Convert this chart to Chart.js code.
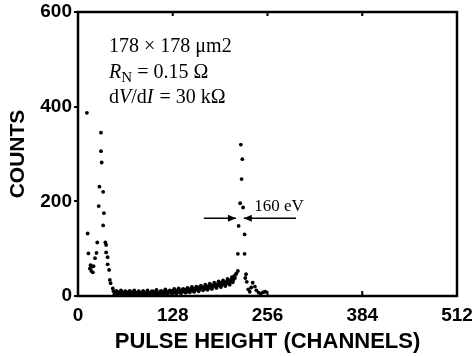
<!DOCTYPE html>
<html>
<head>
<meta charset="utf-8">
<script src="https://cdn.jsdelivr.net/npm/chart.js@4"></script>
<style>
  html, body { margin: 0; padding: 0; background: #fff; }
  #wrap { width: 472px; height: 356px; }
</style>
</head>
<body>
<div id="wrap"><canvas id="c" width="472" height="356"></canvas></div>
<script>
// ---- data ----
const xTicks = [0, 128, 256, 384, 512];
const yTicks = [0, 200, 400, 600];

// low-energy peak
const peak1Channels = [12, 31, 31, 32, 29, 34, 28, 35, 34, 13, 26, 37, 38, 14, 25, 38, 23, 40, 17, 19, 21, 40, 16, 18, 20, 42, 43, 44, 47];
const peak1Counts   = [387, 345, 306, 282, 231, 220, 190, 175, 149, 132, 113, 113, 108, 90, 91, 92, 80, 82, 65, 62, 63, 67, 58, 53, 50, 55, 34, 27, 16];

// background plateau (upper and lower scatter of the band)
const floorChannels = [48, 50, 51, 53, 54, 56, 57, 59, 60, 62, 63, 65, 66, 68, 69, 71, 72, 74, 75, 77, 78, 80, 81, 83, 84, 86, 87, 89, 90, 92, 93, 95, 96, 98, 99, 101, 102, 104, 105, 107, 108, 110, 111, 113, 114, 116, 117, 119, 120, 122, 123, 125, 126, 128, 129, 131, 132, 134, 135, 137, 138, 140, 141, 143, 144, 146, 147, 149, 150, 152, 153, 155, 156, 158, 159, 161, 162, 164, 165, 167, 168, 170, 171, 173, 174, 176, 177, 179, 180, 182, 183, 185, 186, 188, 189, 191, 192, 194, 195, 197, 198, 200, 201, 203, 204, 206, 207, 209, 210, 212];
const floorCounts   = [10, 6, 9, 5, 8, 7, 4, 9, 6, 5, 8, 6, 3, 7, 9, 5, 4, 8, 6, 5, 7, 4, 6, 8, 5, 3, 6, 7, 5, 4, 8, 6, 5, 7, 4, 6, 9, 5, 7, 6, 4, 8, 6, 7, 9, 5, 8, 10, 6, 7, 9, 11, 7, 8, 12, 9, 7, 10, 13, 8, 11, 9, 13, 10, 12, 14, 9, 13, 11, 15, 12, 14, 10, 16, 13, 15, 18, 14, 17, 16, 19, 17, 15, 20, 18, 21, 17, 20, 23, 19, 22, 24, 21, 25, 22, 26, 23, 28, 24, 27, 30, 25, 29, 33, 27, 31, 35, 29, 34, 38];
const floor2Channels = [49, 52, 55, 58, 61, 64, 67, 70, 73, 76, 79, 82, 85, 88, 91, 94, 97, 100, 103, 106, 109, 112, 115, 118, 121, 124, 127, 130, 133, 136, 139, 142, 145, 148, 151, 154, 157, 160, 163, 166, 169, 172, 175, 178, 181, 184, 187, 190, 193, 196, 199, 202, 205, 208];
const floor2Counts   = [3, 11, 2, 12, 3, 10, 2, 11, 3, 12, 2, 10, 4, 11, 2, 12, 3, 10, 2, 13, 4, 11, 3, 14, 5, 12, 4, 15, 5, 16, 6, 15, 7, 17, 8, 19, 9, 20, 10, 22, 12, 24, 13, 26, 15, 28, 17, 31, 19, 33, 21, 36, 24, 40];

// X-ray peak
const peak2Channels = [220, 222, 221, 219, 223, 217, 225, 216, 225, 216, 214, 213, 227, 228, 236, 239, 232, 244, 253, 230, 234, 241, 247, 250, 211, 226];
const peak2Counts   = [320, 289, 247, 196, 187, 148, 130, 89, 89, 53, 48, 45, 46, 30, 28, 20, 9, 7, 9, 14, 18, 12, 5, 8, 42, 38];

const channels = peak1Channels.concat(floorChannels, floor2Channels, peak2Channels);
const counts = peak1Counts.concat(floorCounts, floor2Counts, peak2Counts);
const points = channels.map((c, i) => ({ x: c, y: counts[i] }));

// annotation anchors in data units (channel, count)
const infoAnchor = { x: 42, lines: [515, 461, 408] };
const fwhmLabel = { x: 238, y: 180, text: '160 eV' };
const fwhmArrowY = 164;
const fwhmArrowLeft = [170, 213.4];
const fwhmArrowRight = [294.5, 224];

const SERIF = '"Liberation Serif", "Times New Roman", serif';
const SANS = '"Liberation Sans", Arial, sans-serif';

function drawRich(ctx, x, y, segs, size) {
  let cx = x;
  for (const s of segs) {
    const fs = s.sub ? Math.round(size * 0.75) : size;
    ctx.font = (s.italic ? 'italic ' : '') + fs + 'px ' + SERIF;
    const dy = s.sub ? size * 0.22 : 0;
    ctx.fillText(s.t, cx, y + dy);
    cx += ctx.measureText(s.t).width + (s.gap || 0);
  }
}

function arrow(ctx, x1, x2, y) {
  ctx.beginPath();
  ctx.moveTo(x1, y);
  ctx.lineTo(x2, y);
  ctx.stroke();
  const dir = x2 > x1 ? 1 : -1;
  ctx.beginPath();
  ctx.moveTo(x2, y);
  ctx.lineTo(x2 - dir * 8, y - 3.5);
  ctx.lineTo(x2 - dir * 8, y + 3.5);
  ctx.closePath();
  ctx.fill();
}

const framePlugin = {
  id: 'frame',
  afterDraw(chart) {
    const { ctx, chartArea: a, scales } = chart;
    const xs = scales.x, ys = scales.y;
    ctx.save();
    ctx.strokeStyle = '#000';
    ctx.fillStyle = '#000';
    ctx.lineWidth = 2.5;
    ctx.strokeRect(a.left, a.top, a.right - a.left, a.bottom - a.top);
    // inward x ticks
    ctx.lineWidth = 2;
    for (const v of xTicks.slice(1, -1)) {
      const px = xs.getPixelForValue(v);
      ctx.beginPath();
      ctx.moveTo(px, a.bottom);
      ctx.lineTo(px, a.bottom - 5);
      ctx.moveTo(px, a.top);
      ctx.lineTo(px, a.top + 4);
      ctx.stroke();
    }
    // info text
    ctx.textBaseline = 'alphabetic';
    ctx.textAlign = 'left';
    const tx = xs.getPixelForValue(infoAnchor.x);
    const ly = infoAnchor.lines.map(v => ys.getPixelForValue(v));
    drawRich(ctx, tx, ly[0], [{ t: '178 × 178 μm2' }], 20);
    drawRich(ctx, tx, ly[1], [{ t: 'R', italic: true }, { t: 'N', sub: true }, { t: ' = 0.15 Ω' }], 20);
    drawRich(ctx, tx, ly[2], [{ t: 'd' }, { t: 'V', italic: true }, { t: '/d' }, { t: 'I', italic: true, gap: 1 }, { t: ' = 30 kΩ' }], 20);
    // FWHM label and arrows
    drawRich(ctx, xs.getPixelForValue(fwhmLabel.x), ys.getPixelForValue(fwhmLabel.y), [{ t: fwhmLabel.text }], 17);
    ctx.lineWidth = 1.5;
    const ay = ys.getPixelForValue(fwhmArrowY);
    arrow(ctx, xs.getPixelForValue(fwhmArrowLeft[0]), xs.getPixelForValue(fwhmArrowLeft[1]), ay);
    arrow(ctx, xs.getPixelForValue(fwhmArrowRight[0]), xs.getPixelForValue(fwhmArrowRight[1]), ay);
    ctx.restore();
  }
};

new Chart(document.getElementById('c'), {
  type: 'scatter',
  data: {
    datasets: [{
      data: points,
      backgroundColor: '#000',
      borderColor: '#000',
      pointRadius: 1.9,
      pointBorderWidth: 0,
      pointHoverRadius: 1.9
    }]
  },
  options: {
    responsive: false,
    animation: false,
    devicePixelRatio: 1,
    layout: { padding: { top: 12, right: 15, left: 0, bottom: 0 } },
    plugins: { legend: { display: false }, tooltip: { enabled: false } },
    scales: {
      x: {
        type: 'linear', min: 0, max: 512,
        afterBuildTicks(s) { s.ticks = xTicks.map(v => ({ value: v })); },
        afterFit(s) { s.height = 60; s.paddingLeft = 0; s.paddingRight = 0; },
        border: { display: false },
        grid: { display: false, drawTicks: false },
        ticks: { color: '#000', padding: 8, maxRotation: 0, autoSkip: false, font: { family: SANS, size: 19, weight: 'bold' } },
        title: { display: true, text: 'PULSE HEIGHT (CHANNELS)', color: '#000', padding: { top: 0, bottom: 1 }, font: { family: SANS, size: 22, weight: 'bold' } }
      },
      y: {
        type: 'linear', min: 0, max: 600,
        afterBuildTicks(s) { s.ticks = yTicks.map(v => ({ value: v })); },
        afterFit(s) { s.width = 78; s.paddingTop = 0; s.paddingBottom = 0; },
        border: { display: false },
        grid: { display: true, drawOnChartArea: false, drawTicks: true, tickLength: 4, color: '#000', lineWidth: 2 },
        ticks: { color: '#000', padding: 2, autoSkip: false, font: { family: SANS, size: 19, weight: 'bold' } },
        title: { display: true, text: 'COUNTS', color: '#000', padding: { top: 6, bottom: 0 }, font: { family: SANS, size: 21, weight: 'bold' } }
      }
    }
  },
  plugins: [framePlugin]
});
</script>
</body>
</html>
